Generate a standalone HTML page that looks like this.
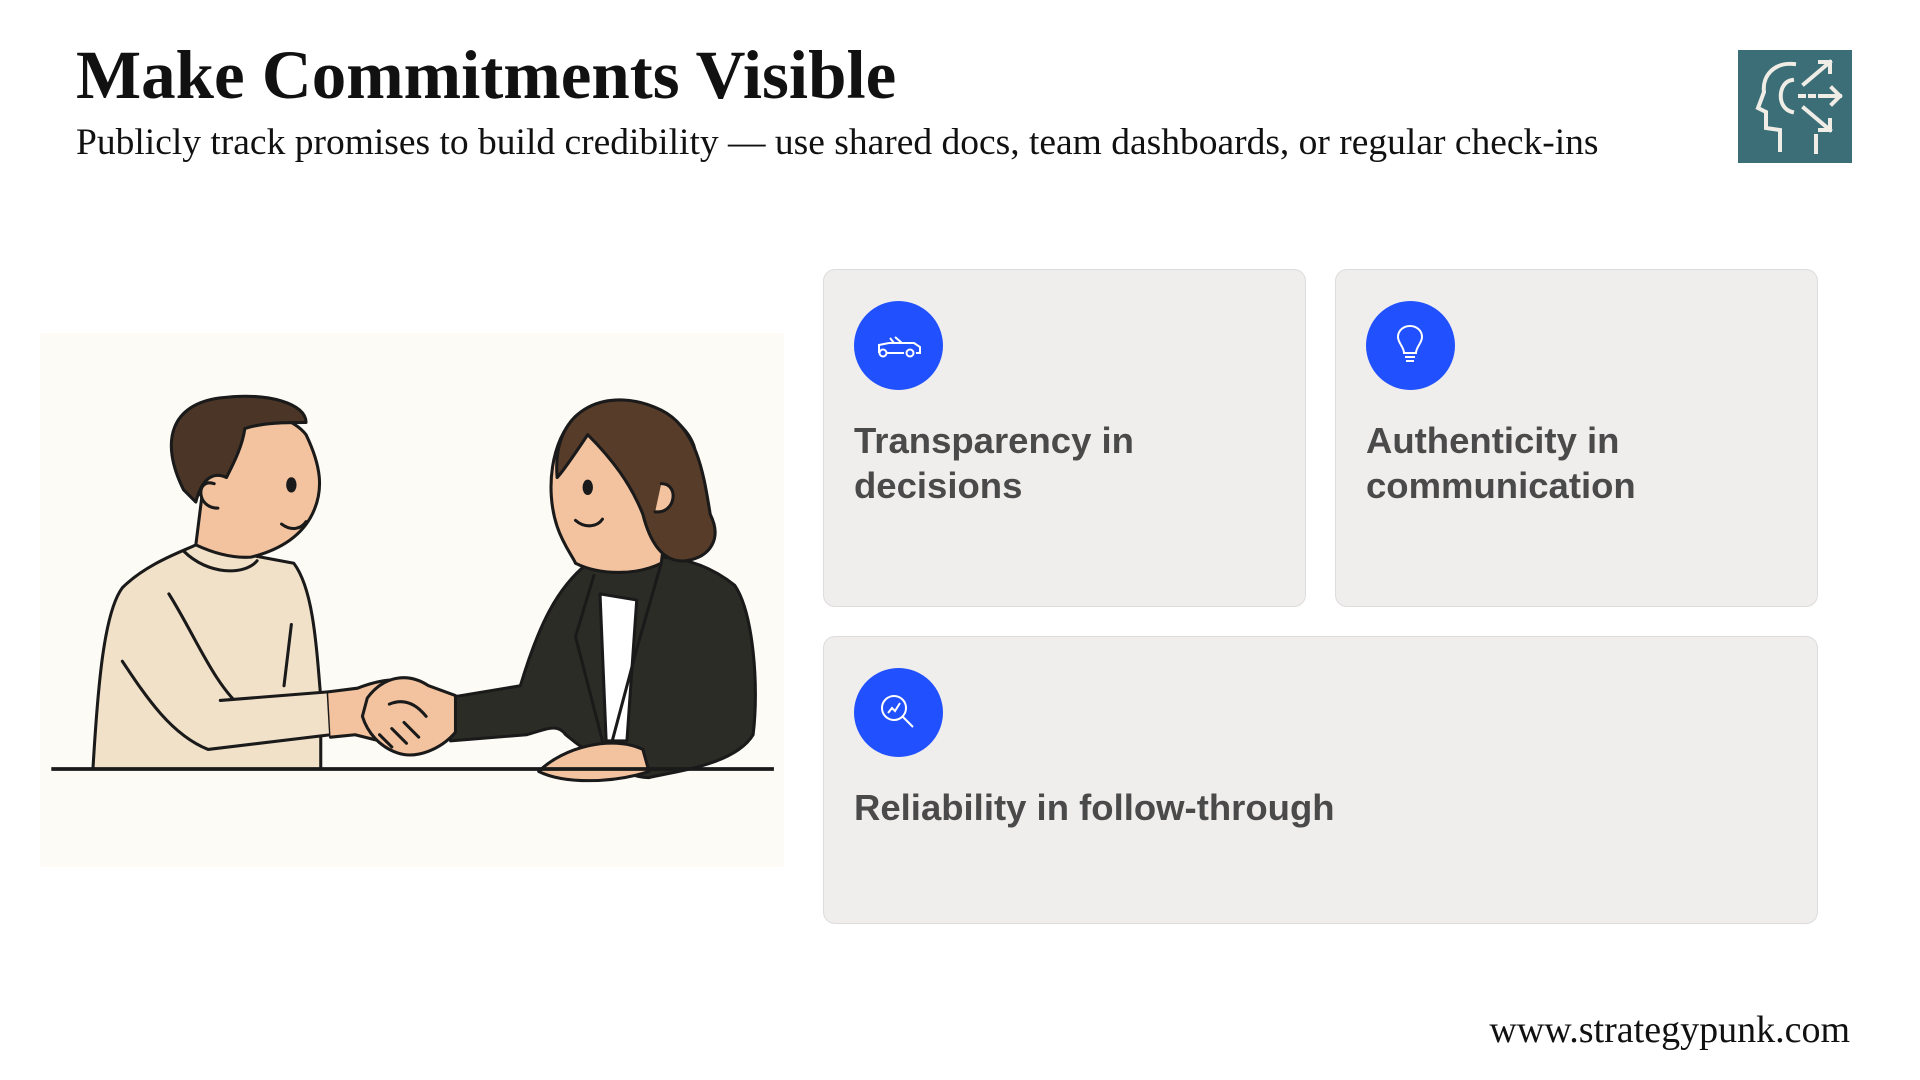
<!DOCTYPE html>
<html><head><meta charset="utf-8"><style>
html,body{margin:0;padding:0;}
body{width:1920px;height:1080px;position:relative;background:#fff;overflow:hidden;font-family:"Liberation Sans",Arial,sans-serif;}
.t{position:absolute;left:76px;top:36px;font-family:"Liberation Serif",serif;font-weight:bold;font-size:69px;color:#111;white-space:nowrap;}
.s{position:absolute;left:76px;top:121px;font-family:"Liberation Serif",serif;font-size:37.5px;color:#111;white-space:nowrap;}
.u{position:absolute;right:70px;top:1008px;font-family:"Liberation Serif",serif;font-size:38px;color:#111;}
.card{position:absolute;background:#f0eded;border:1.5px solid #dcdcdc;border-radius:12px;box-sizing:border-box;}
.c{position:absolute;width:89px;height:89px;border-radius:50%;background:#2150fe;left:30px;top:31px;}
.c svg{position:absolute;left:0;top:0;}
.lbl{position:absolute;left:30px;font-weight:bold;font-size:36.5px;line-height:45px;color:#4a4a4a;}
.logo{position:absolute;left:1738px;top:50px;width:114px;height:113px;background:#3b6e77;}
</style></head><body>
<div class="t">Make Commitments Visible</div>
<div class="s">Publicly track promises to build credibility — use shared docs, team dashboards, or regular check-ins</div>
<div class="logo"><svg width="114" height="113" viewBox="0 0 114 113" fill="none" stroke="#f0ece6" stroke-width="4" stroke-linecap="square">
<path d="M56 14 C36 12 24 26 26 42 L20 58 L28 62 L28 78 L42 80 L42 100"/>
<path d="M54 30 C40 32 38 58 54 62"/>
<path d="M62 46 h4 M72 46 h4 M82 46 h20 M94 38 l8 8 -8 8"/>
<path d="M66 34 L92 12 M82 12 h10 v10"/>
<path d="M66 58 L92 80 M92 70 v10 h-10"/>
<path d="M78 86 L78 102"/>
</svg></div>

<svg style="position:absolute;left:40px;top:333px" width="744" height="534" viewBox="33 272 607 436">
<rect x="33" y="272" width="607" height="436" fill="#fdfbf6"/>
<g stroke="#1a1a1a" stroke-width="2.5" stroke-linejoin="round" stroke-linecap="round">
<path d="M76 628 C80 560 85 500 100 480 C120 460 150 450 160 445 L240 460 C255 480 258 520 262 570 L262 628 Z" fill="#f2e1c9"/>
<path d="M150 450 C170 470 200 470 210 458" fill="none"/>
<path d="M138 485 C160 520 175 560 200 580" fill="none"/>
<path d="M238 510 L232 560" fill="none"/>
<path d="M100 540 C120 570 140 600 170 612 L270 600 L268 565 L180 572" fill="#f2e1c9"/>
<path d="M268 565 L292 562 C310 555 330 550 355 565 L365 590 C355 610 330 620 310 605 L290 600 L270 602" fill="#f3c3a0"/>
<path d="M160 445 L165 405 C150 395 140 370 150 350 C170 330 230 330 250 355 C262 380 265 400 255 420 C245 440 225 450 205 455 C190 456 175 452 160 445 Z" fill="#f3c3a0"/>
<path d="M150 400 C130 360 140 330 180 325 C220 320 250 330 250 345 C235 345 215 345 200 350 C198 365 190 380 185 390 C175 385 165 390 160 410 Z" fill="#4a3526"/>
<path d="M175 395 C160 390 160 415 178 415" fill="#f3c3a0"/>
<ellipse cx="238" cy="396" rx="3" ry="5" fill="#1a1a1a"/>
<path d="M230 428 C238 434 246 432 250 426" fill="none"/>
<path d="M530 635 C550 630 600 625 615 600 C620 560 615 500 600 478 C580 462 560 456 540 455 L480 460 C455 480 440 510 425 560 L365 570 L368 605 L430 600 C445 596 455 590 462 600 C480 615 510 635 530 635 Z" fill="#2c2c26"/>
<path d="M490 485 L495 605 L512 605 L520 490 Z" fill="#fff"/>
<path d="M485 470 L470 520 L492 605" fill="none"/>
<path d="M540 460 L520 530 L500 605" fill="none"/>
<path d="M440 630 C460 610 500 600 525 612 L530 630 C500 640 460 640 440 630 Z" fill="#f3c3a0"/>
<path d="M470 460 C490 470 520 470 540 460 L545 420 C560 400 575 380 565 360 C550 330 500 320 470 340 C450 360 445 400 455 430 C460 445 468 455 470 460 Z" fill="#f3c3a0"/>
<path d="M455 390 C450 330 500 315 540 335 C570 350 575 390 580 420 C590 440 580 455 560 458 C540 460 530 440 525 420 C515 395 500 375 480 355 C470 370 460 385 455 390 Z" fill="#573c29"/>
<path d="M540 395 C555 395 552 420 535 418" fill="#f3c3a0"/>
<ellipse cx="480" cy="398" rx="3" ry="5" fill="#1a1a1a"/>
<path d="M470 425 C478 432 488 430 492 424" fill="none"/>
<path d="M300 570 C315 550 335 550 350 560 L372 568 L372 598 C360 612 340 620 325 615 C310 610 300 598 296 585 Z" fill="#f3c3a0"/>
<path d="M310 600 l10 10 M320 595 l12 12 M330 590 l12 12 M318 575 C330 570 340 575 348 585" fill="none"/>
</g>
<line x1="42" y1="628" x2="632" y2="628" stroke="#1a1a1a" stroke-width="3"/>
</svg>

<div class="card" style="left:823px;top:269px;width:483px;height:338px;">
<div class="c"><svg width="89" height="89" viewBox="0 0 89 89" fill="none" stroke="#fff" stroke-width="2"><path d="M25 52 v-8 l10 -2 h25 l6 4 v6 h-4 M32 52 h18 M40 42 l-4 -5 M48 42 l-7 -6"/><circle cx="29" cy="52" r="3.5"/><circle cx="56" cy="52" r="3.5"/></svg></div>
<div class="lbl" style="top:148px">Transparency in<br>decisions</div>
</div>
<div class="card" style="left:1335px;top:269px;width:483px;height:338px;">
<div class="c"><svg width="89" height="89" viewBox="0 0 89 89" fill="none" stroke="#fff" stroke-width="2"><path d="M38 52 C38 46 32 42 32 36 C32 29 38 25 44 25 C50 25 56 29 56 36 C56 42 50 46 50 52 Z M39 56 h10 M40 60 h8"/></svg></div>
<div class="lbl" style="top:148px">Authenticity in<br>communication</div>
</div>
<div class="card" style="left:823px;top:636px;width:995px;height:288px;">
<div class="c"><svg width="89" height="89" viewBox="0 0 89 89" fill="none" stroke="#fff" stroke-width="2"><circle cx="40" cy="40" r="12"/><path d="M49 49 l10 10 M34 45 l4 -5 3 3 5 -8"/></svg></div>
<div class="lbl" style="top:148px">Reliability in follow-through</div>
</div>
<div class="u">www.strategypunk.com</div>
</body></html>
